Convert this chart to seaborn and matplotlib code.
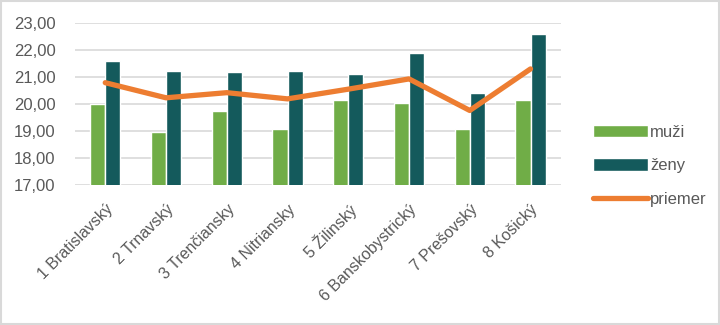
import matplotlib
matplotlib.use("Agg")
import matplotlib.pyplot as plt
import seaborn as sns
import pandas as pd
from matplotlib.patches import Rectangle
from matplotlib.ticker import FuncFormatter

regions = ["1 Bratislavský", "2 Trnavský", "3 Trenčiansky", "4 Nitriansky",
           "5 Žilinský", "6 Banskobystrický", "7 Prešovský", "8 Košický"]
muzi = [19.99, 18.98, 19.73, 19.06, 20.13, 20.03, 19.07, 20.16]
zeny = [21.58, 21.24, 21.17, 21.24, 21.13, 21.88, 20.39, 22.59]
priemer = [20.79, 20.23, 20.42, 20.19, 20.55, 20.93, 19.76, 21.30]
yticks = [17, 18, 19, 20, 21, 22, 23]

sns.set_theme(style="white")
plt.rcParams["font.family"] = ["Liberation Sans Narrow", "Liberation Sans", "DejaVu Sans"]

df = pd.DataFrame({
    "kraj": regions * 2,
    "hodnota": muzi + zeny,
    "séria": ["muži"] * len(regions) + ["ženy"] * len(regions),
})

fig = plt.figure(figsize=(7.2, 3.25), dpi=100)
ax = fig.add_axes([0.104, 0.431, 0.675, 0.498])

sns.barplot(data=df, x="kraj", y="hodnota", hue="séria",
            palette={"muži": "#70AD47", "ženy": "#145A5C"},
            width=0.5, saturation=1, ax=ax, legend=True, zorder=2)
sns.pointplot(x=regions, y=priemer, color="#ED7D31", marker="",
              linewidth=3.8, ax=ax, label="priemer", zorder=3)

ax.set_ylim(17, 23)
ax.set_yticks(yticks)
ax.yaxis.set_major_formatter(FuncFormatter(lambda v, p: f"{v:.2f}".replace(".", ",")))
ax.grid(axis="y", color="#D9D9D9", linewidth=1.2, zorder=0)
ax.set_axisbelow(True)
for s in ax.spines.values():
    s.set_visible(False)
ax.set_xlabel("")
ax.set_ylabel("")
ax.tick_params(axis="both", length=0, colors="#595959")
ax.tick_params(axis="y", pad=14, labelsize=12)
ax.tick_params(axis="x", pad=12, labelsize=11.5)
plt.setp(ax.get_xticklabels(), rotation=45, ha="right", rotation_mode="anchor")
ax.set_xlim(-0.5, len(regions) - 0.5)

handles, labels = ax.get_legend_handles_labels()
ax.legend_.remove()
leg = fig.legend(handles, labels, loc="center left", bbox_to_anchor=(0.824, 0.49),
                 frameon=False, fontsize=12, handlelength=3.3, handleheight=0.8,
                 labelspacing=1.1, handletextpad=0.1, borderaxespad=0,
                 borderpad=0, labelcolor="#595959")

fig.patches.append(Rectangle((0.002, 0.003), 0.996, 0.994, transform=fig.transFigure,
                             fill=False, edgecolor="#D9D9D9", linewidth=1.5))

fig.savefig("out.png", dpi=100)
